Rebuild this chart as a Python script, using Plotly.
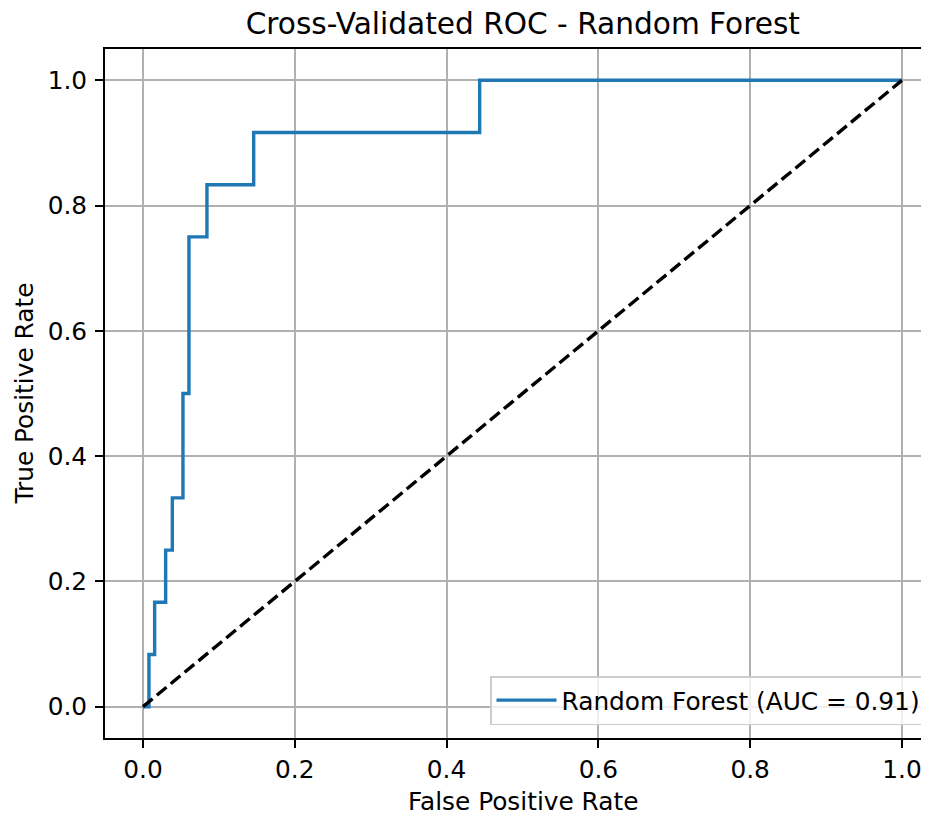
import plotly.graph_objects as go

# ROC step vertices (hv steps): horizontal to fpr, then vertical to tpr
fpr = [0.0, 0.0079, 0.0154, 0.0299, 0.0387, 0.0527, 0.0606, 0.0843, 0.1459, 0.4436, 1.0]
tpr = [0.0, 1/12, 2/12, 3/12, 4/12, 6/12, 9/12, 10/12, 11/12, 1.0, 1.0]
diag_x = [0.0, 1.0]
diag_y = [0.0, 1.0]
ticks = [0.0, 0.2, 0.4, 0.6, 0.8, 1.0]
auc = 0.91

FONT = "DejaVu Sans"
# page body has an 8px margin; figure coordinates are screen - 8
W, H = 921, 815
L, R, T, B = 97, 0, 41, 85
PW, PH = W - L - R, H - T - B

fig = go.Figure()
fig.add_trace(go.Scatter(
    x=fpr, y=tpr, mode="lines", line_shape="hv",
    line=dict(color="#1f77b4", width=3.4),
    name=f"Random Forest (AUC = {auc:.2f})",
))
fig.add_trace(go.Scatter(
    x=diag_x, y=diag_y, mode="lines",
    line=dict(color="black", width=3.4, dash="12.5px,5.5px"),
    showlegend=False,
))

axis_common = dict(
    showgrid=True, gridcolor="#b0b0b0", gridwidth=1.8,
    zeroline=False, showline=True, linecolor="black", linewidth=1.8,
    ticks="outside", ticklen=8, tickwidth=1.8, tickcolor="black",
    tickfont=dict(family=FONT, size=24.8, color="black"),
    tickvals=ticks, tickformat=".1f",
)
fig.update_xaxes(range=[-0.05, 1.0356], mirror=True, **axis_common)
fig.update_yaxes(range=[-0.05, 1.05], mirror=False, ticklabelstandoff=3, **axis_common)

lab = dict(family=FONT, size=24.8, color="black")
fig.add_annotation(text="False Positive Rate", xref="paper", yref="paper",
                   x=(514.8 - L) / PW, y=-(793 - (T + PH)) / PH,
                   xanchor="center", yanchor="middle", showarrow=False, font=lab)
fig.add_annotation(text="True Positive Rate", xref="paper", yref="paper",
                   x=(16 - L) / PW, y=0.5, textangle=-90,
                   xanchor="center", yanchor="middle", showarrow=False, font=lab)

fig.update_layout(
    width=W, height=H,
    margin=dict(l=L, r=R, t=T, b=B, pad=0),
    paper_bgcolor="white", plot_bgcolor="white",
    title=dict(text="Cross-Validated ROC - Random Forest", x=(514.8) / W, xanchor="center",
               y=1 - 16 / H, yanchor="middle",
               font=dict(family=FONT, size=29.6, color="black")),
    legend=dict(x=(919 - L) / PW, y=(T + PH - 717) / PH, xanchor="right", yanchor="bottom",
                bgcolor="rgba(255,255,255,0.8)", bordercolor="#cccccc", borderwidth=1.5,
                itemwidth=60,
                font=dict(family=FONT, size=24.8, color="black")),
    showlegend=True,
)
fig.write_html("out.html")
